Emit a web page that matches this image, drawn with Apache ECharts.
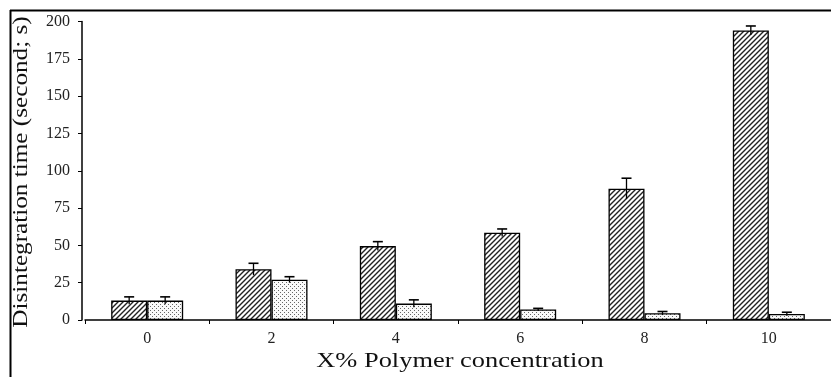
<!DOCTYPE html>
<html><head><meta charset="utf-8">
<script src="https://cdn.jsdelivr.net/npm/echarts@6/dist/echarts.min.js"></script>
<style>html,body{margin:0;padding:0;background:#fff}#c{width:831px;height:377px}</style>
</head><body><div id="c"></div>
<script>
var categories = ['0','2','4','6','8','10'];
var hatchedValues = [13, 34, 49.5, 58.5, 88, 194];
var hatchedErrors = [2.5, 4, 3, 2.5, 7, 3];
var dottedValues = [13, 27, 11, 7, 4.5, 4];
var dottedErrors = [2.5, 2, 2.5, 0.8, 1.2, 1.2];
var yTicks = [0, 25, 50, 75, 100, 125, 150, 175, 200];
var xTitle = 'X% Polymer concentration';
var yTitle = 'Disintegration time (second; s)';

function hatchPattern() {
  var c = document.createElement('canvas'); c.width = 5; c.height = 5;
  var g = c.getContext('2d');
  g.fillStyle = '#fff'; g.fillRect(0,0,5,5);
  g.strokeStyle = '#222'; g.lineWidth = 1.4;
  g.beginPath();
  g.moveTo(-1,6); g.lineTo(6,-1);
  g.moveTo(-1,1); g.lineTo(1,-1);
  g.moveTo(4,6); g.lineTo(6,4);
  g.stroke();
  return {image: c, repeat: 'repeat'};
}
function dotPattern() {
  var c = document.createElement('canvas'); c.width = 4; c.height = 4;
  var g = c.getContext('2d');
  g.fillStyle = '#fafafa'; g.fillRect(0,0,4,4);
  g.fillStyle = '#666';
  g.fillRect(0,0,1,1); g.fillRect(2,2,1,1);
  return {image: c, repeat: 'repeat'};
}

var chart = echarts.init(document.getElementById('c'), null, {renderer: 'canvas'});
var barW = 36;
function errSeries(vals, errs, offset) {
  return {
    type: 'custom', z: 5,
    data: vals.map(function (v, i) { return [i, v, errs[i]]; }),
    renderItem: function (params, api) {
      var i = api.value(0), v = api.value(1), e = api.value(2);
      var top = api.coord([i, v + e]);
      var bot = api.coord([i, v - e]);
      var x = top[0] + offset;
      return {type: 'group', children: [
        {type: 'line', shape: {x1: x, y1: top[1], x2: x, y2: bot[1]}, style: {stroke: '#000', lineWidth: 1.3}},
        {type: 'line', shape: {x1: x - 5, y1: top[1], x2: x + 5, y2: top[1]}, style: {stroke: '#000', lineWidth: 1.6}}
      ]};
    }
  };
}
var font = 'Liberation Serif';
chart.setOption({
  animation: false,
  grid: {left: 85, right: 0, top: 21.5, bottom: 57, outerBoundsMode: 'none', containLabel: false},
  xAxis: {
    type: 'category', data: categories,
    axisLine: {lineStyle: {color: '#000', width: 1.5}},
    axisTick: {show: true, length: 4, lineStyle: {color: '#000'}},
    axisLabel: {fontFamily: font, fontSize: 16, color: '#222', margin: 11}
  },
  yAxis: {
    type: 'value', min: 0, max: 200, interval: 25, offset: 3,
    axisLine: {show: true, lineStyle: {color: '#000', width: 1.5}},
    axisTick: {show: true, length: 4, lineStyle: {color: '#000'}},
    axisLabel: {fontFamily: font, fontSize: 16, color: '#222', margin: 12,
      formatter: function (v) { return yTicks.indexOf(v) >= 0 ? String(v) : ''; }},
    splitLine: {show: false}
  },
  series: [
    {type: 'bar', data: hatchedValues, barWidth: barW, barGap: '0%',
     itemStyle: {color: hatchPattern(), borderColor: '#000', borderWidth: 1.3}},
    {type: 'bar', data: dottedValues, barWidth: barW,
     itemStyle: {color: dotPattern(), borderColor: '#000', borderWidth: 1.3}},
    errSeries(hatchedValues, hatchedErrors, -barW / 2),
    errSeries(dottedValues, dottedErrors, barW / 2)
  ],
  graphic: [
    {type: 'line', shape: {x1: 10.5, y1: 10, x2: 10.5, y2: 377}, style: {stroke: '#000', lineWidth: 2}},
    {type: 'line', shape: {x1: 10, y1: 10.5, x2: 831, y2: 10.5}, style: {stroke: '#000', lineWidth: 2}},
    {type: 'text', x: 460, y: 361, scaleX: 1.2,
     style: {text: xTitle, font: '22px "Liberation Serif"', fill: '#111', align: 'center', verticalAlign: 'middle'}},
    {type: 'text', x: 21, y: 172, rotation: Math.PI / 2, scaleX: 1.2,
     style: {text: yTitle, font: '21px "Liberation Serif"', fill: '#111', align: 'center', verticalAlign: 'middle'}}
  ]
});
</script></body></html>
